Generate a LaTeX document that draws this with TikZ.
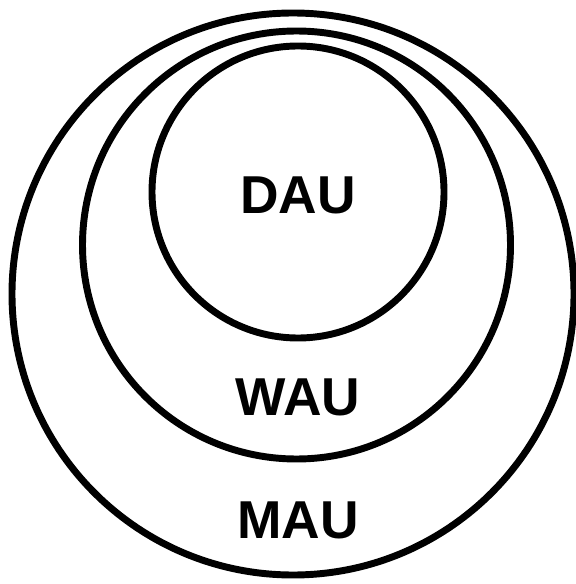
\documentclass[tikz,border=0pt]{standalone}
\usepackage{fontspec}
\setmainfont{Liberation Sans}
\usetikzlibrary{positioning}
\definecolor{auInk}{HTML}{000000}
\tikzset{
  au ring/.style={draw=auInk, line width=5.2pt, fill=none},
  au label/.style={font=\bfseries\fontsize{40}{48}\selectfont, text=auInk, inner sep=0pt}
}
\begin{document}
\begin{tikzpicture}[x=.75pt,y=-.75pt]
  \useasboundingbox[fill=white] (0,0) rectangle (575,584);
  \coordinate (mauC) at (293,294);
  \coordinate (wauC) at (296.5,245);
  \coordinate (dauC) at (298,192);

  \draw[au ring] (mauC) circle[radius=281];
  \draw[au ring] (wauC) circle[radius=214];
  \draw[au ring] (dauC) circle[radius=146];

  \node[au label] (dau) at (298,195) {DAU};
  \node[au label] (wau) at (298,397) {WAU};
  \node[au label] (mau) at (298,520) {MAU};
\end{tikzpicture}
\end{document}
